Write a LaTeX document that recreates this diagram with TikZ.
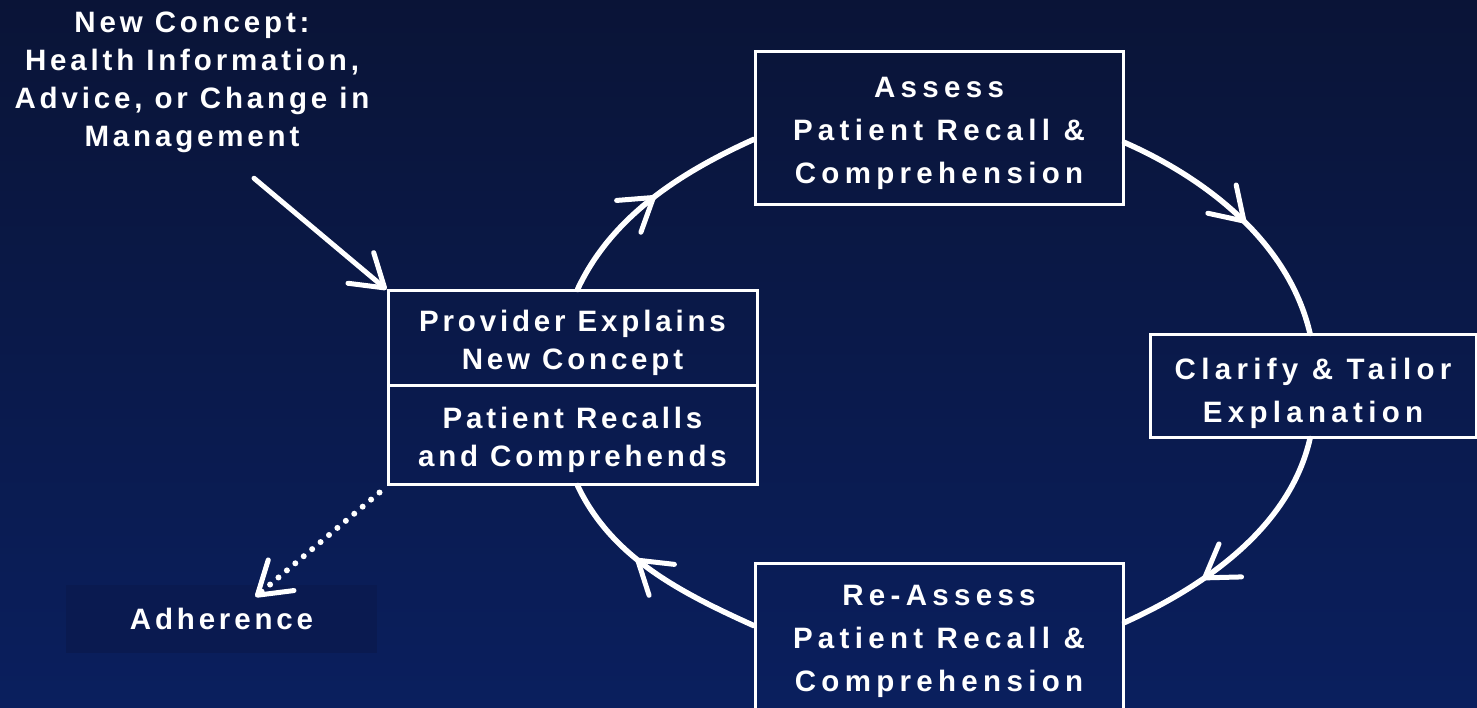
\documentclass[tikz,border=0pt]{standalone}
\usepackage{fontspec}
\setmainfont{Liberation Sans}
\newfontfamily\widefont[LetterSpace=18]{Liberation Sans}
\newfontfamily\narrowfont[LetterSpace=13]{Liberation Sans}
\newcommand{\topgap}[1]{\rule{0pt}{#1}}
\usepackage{tikz}
\usetikzlibrary{arrows.meta,decorations.markings,positioning}
\definecolor{navytop}{HTML}{0A1437}
\definecolor{navybot}{HTML}{0A1F5E}
\definecolor{adhfill}{HTML}{0A1A50}

\begin{document}
\begin{tikzpicture}[x = 1pt, y = -1pt,
  barb/.tip = {Straight Barb[length = 31pt, width = 40pt, line width = 5pt, round]},
  stepbox/.style = {draw = white, line width = 3pt, align = center, text = white, inner sep = 0pt},
  bigtext/.style = {font = \widefont\bfseries\fontsize{29.5}{43}\selectfont},
  smalltext/.style = {font = \narrowfont\bfseries\fontsize{29.5}{38}\selectfont},
  cyclearc/.style = {draw = white, color = white, line width = 5.5pt, line cap = round,
    postaction = {decorate},
    decoration = {markings, mark = at position #1 with {\arrow{barb}}}},
  plainarrow/.style = {draw = white, line width = 5pt, line cap = round, -{barb}},
  dotarrow/.style = {draw = white, line width = 6pt, line cap = round, dash pattern = on 0pt off 11pt, -{barb}}]
\useasboundingbox (0,0) rectangle (1477,708);
\shade[top color = navytop, bottom color = navybot] (0,0) rectangle (1477,708);

% boxes of the cycle
\node[stepbox, bigtext, minimum width = 368pt, minimum height = 153pt] (assess) at (939,128.5) {\topgap{30pt}Assess\\Patient Recall \&\\Comprehension};
\node[stepbox, bigtext, minimum width = 326pt, minimum height = 102pt] (clarify) at (1313,386) {\topgap{36pt}Clarify \& Tailor\\Explanation};
\node[stepbox, bigtext, minimum width = 368pt, minimum height = 151pt] (reassess) at (939,638.5) {\topgap{26pt}Re-Assess\\Patient Recall \&\\Comprehension};
\node[stepbox, smalltext, minimum width = 369pt, minimum height = 94pt] (prov) at (572.5,338) {\topgap{32pt}Provider Explains\\New Concept};
\node[stepbox, smalltext, minimum width = 369pt, minimum height = 99pt] (patient) at (572.5,434.5) {\topgap{32pt}Patient Recalls\\and Comprehends};

% outside texts
\node[smalltext, text = white, align = center, anchor = north, inner sep = 0pt] (concept) at (192,12) {New Concept:\\Health Information,\\Advice, or Change in\\Management};
\node[smalltext, fill = adhfill, text = white, minimum width = 311pt, minimum height = 68pt] (adh) at (221.5,619) {Adherence};

% the cycle
\draw[cyclearc = 0.52] ([xshift = 5pt]prov.north) .. controls +(34,-73) and +(-73,33) .. ([yshift = -11pt]assess.west);
\draw[cyclearc = 0.53] ([yshift = -14pt]assess.east) .. controls +(84,37) and +(-21,-90) .. ([xshift = -3pt]clarify.north);
\draw[cyclearc = 0.67] ([xshift = -3pt]clarify.south) .. controls +(-20,88) and +(82,-37) .. ([yshift = 16pt]reassess.east);
\draw[cyclearc = 0.59] ([yshift = 13pt]reassess.west) .. controls +(-73,-33) and +(34,72) .. ([xshift = 5pt]patient.south);

% in and out
\draw[plainarrow] ([xshift = 62pt, yshift = -25pt]concept.south) -- (prov.north west);
\draw[dotarrow] ([xshift = -7pt, yshift = -7pt]patient.south west) -- ([xshift = 34pt, yshift = -12pt]adh.north);
\end{tikzpicture}
\end{document}
